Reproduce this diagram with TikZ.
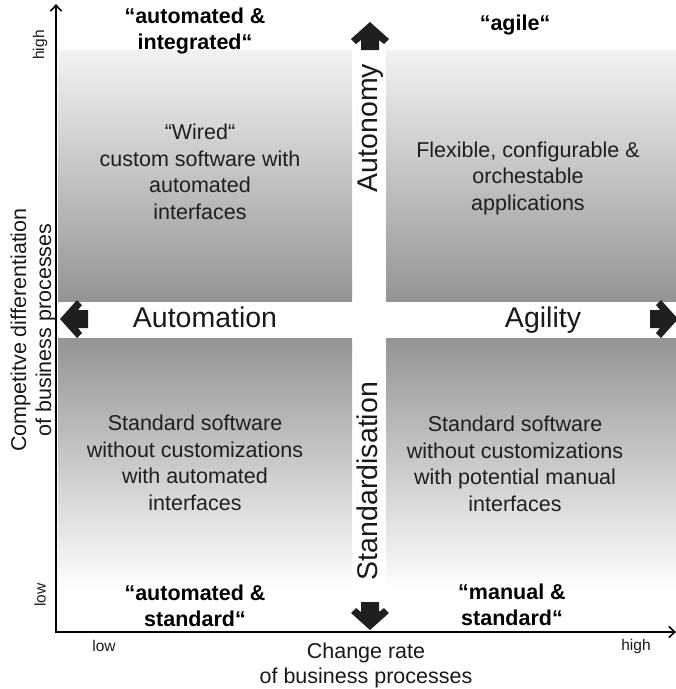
\documentclass[tikz,border=0pt]{standalone}
\usepackage{fontspec}
\setmainfont{Liberation Sans}
\usetikzlibrary{arrows.meta}
\tikzset{
  quad/.style={draw=none},
  topquad/.style={quad, top color=black!5, bottom color=black!42},
  botquad/.style={quad, top color=black!42, bottom color=white},
  bodytxt/.style={align=center, text=black!88, font=\fontsize{21.5}{26.5}\selectfont, inner sep=0pt},
  boldtxt/.style={align=center, text=black, font=\fontsize{21.5}{25.5}\selectfont\bfseries, inner sep=0pt},
  bigtxt/.style={text=black!90, font=\fontsize{28.5}{30}\selectfont, inner sep=0pt, text height=20.5pt, text depth=6pt},
  smalltxt/.style={text=black!90, font=\fontsize{15.5}{17}\selectfont, inner sep=0pt},
  axlbl/.style={align=center, text=black!90, font=\fontsize{21.5}{25}\selectfont, inner sep=0pt},
  axisline/.style={line width=2pt, -{Straight Barb[length=6pt,width=11pt,line width=1.6pt]}},
  blockarrow/.pic={\fill[black!88] (0,0) -- (19,17) -- (14,22) -- (9,18) -- (9,28) -- (-9,28) -- (-9,18) -- (-14,22) -- (-19,17) -- cycle;}
}
\begin{document}
\begin{tikzpicture}[x=1pt,y=-1pt]
\useasboundingbox (0,0) rectangle (676,689);
\clip (0,0) rectangle (676,689);
% quadrant shading
\fill[topquad] (58,50) rectangle (352,301);
\fill[topquad] (386,50) rectangle (676,301);
\fill[botquad] (58,338) rectangle (352,590);
\fill[botquad] (386,338) rectangle (676,590);
% axes
\coordinate (O) at (56,632);
\coordinate (ytop) at (56,4);
\coordinate (xright) at (676,632);
\draw[axisline] ([yshift=-1pt]O) -- (ytop);
\draw[axisline] ([xshift=-1pt]O) -- (xright);
% block arrows
\pic at (370,22) {blockarrow};
\pic[rotate=180] at (370,630) {blockarrow};
\pic[rotate=90] at (60,319) {blockarrow};
\pic[rotate=-90] at (678,319) {blockarrow};
% axis labels
\node[smalltxt, rotate=90] (yhigh) at (40,45) {high};
\node[smalltxt, rotate=90] (ylow) at (40,595) {low};
\node[smalltxt] (xlow) at (104,646) {low};
\node[smalltxt] (xhigh) at (636,646) {high};
\node[axlbl, rotate=90] (ylab) at (33,330) {Competitve differentiation\\of business processes};
\node[axlbl] (xlab) at (366,665) {Change rate\\of business processes};
% quadrant headers
\node[boldtxt] (ai) at (195,31) {“automated \&\\integrated“};
\node[boldtxt] (ag) at (515,25) {“agile“};
\node[boldtxt] (as) at (195,606) {“automated \&\\standard“};
\node[boldtxt] (ms) at (512,605) {“manual \&\\standard“};
% quadrant contents
\node[bodytxt] (wired) at (200,172) {“Wired“\\custom software with\\automated\\interfaces};
\node[bodytxt] (flex) at (528,178) {Flexible, configurable \&\\orchestable\\applications};
\node[bodytxt] (stdl) at (195,463) {Standard software\\without customizations\\with automated\\interfaces};
\node[bodytxt] (stdr) at (515,464) {Standard software\\without customizations\\with potential manual\\interfaces};
% dimension labels
\node[bigtxt] (automation) at (205,320) {Automation};
\node[bigtxt] (agility) at (543,320) {Agility};
\node[bigtxt, rotate=90] (autonomy) at (370,128) {Autonomy};
\node[bigtxt, rotate=90] (standard) at (370,481) {Standardisation};
\end{tikzpicture}
\end{document}
